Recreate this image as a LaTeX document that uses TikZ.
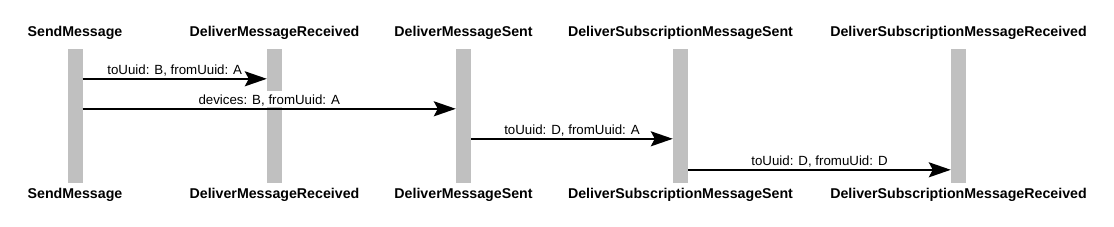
\documentclass[tikz,border=0pt]{standalone}
\usepackage{fontspec}
\setmainfont{Liberation Sans}
\usetikzlibrary{arrows.meta,positioning}
\definecolor{barGray}{HTML}{C0C0C0}

\begin{document}
\begin{tikzpicture}[x=1pt,y=-1pt,
    bar/.style={fill=barGray, draw=none, inner sep=0pt, minimum width=15pt, minimum height=134pt},
    title/.style={inner sep=0pt, font=\bfseries\fontsize{14.2}{16}\selectfont},
    msg/.style={draw=black, line width=2pt, -{Stealth[length=22pt,width=15pt,inset=4pt]}},
    lbl/.style={above, yshift=1pt, fill=white, inner xsep=1pt, inner ysep=0pt,
      text height=14pt, text depth=2pt, font=\fontsize{13.3}{15}\selectfont}]
  \useasboundingbox (0,0) rectangle (1114,226);
  \foreach \n/\x/\t in {send/75/SendMessage, dmr/274.5/DeliverMessageReceived,
      dms/463.5/DeliverMessageSent, dsms/680.5/DeliverSubscriptionMessageSent,
      dsmr/958.5/DeliverSubscriptionMessageReceived}{
    \node[bar] (\n) at (\x,116) {};
    \node[title, above=9pt of \n] (\n-top) {\t};
    \node[title, below=5pt of \n] (\n-bot) {\t};
  }
  \draw[msg] ([yshift=-30pt]send.north east) -- node[lbl] {toUuid: B, fromUuid: A} ([yshift=-30pt]dmr.north west);
  \draw[msg] ([yshift=-60pt]send.north east) -- node[lbl] {devices: B, fromUuid: A} ([yshift=-60pt]dms.north west);
  \draw[msg] ([yshift=-90pt]dms.north east) -- node[lbl] {toUuid: D, fromUuid: A} ([yshift=-90pt]dsms.north west);
  \draw[msg] ([yshift=-121pt]dsms.north east) -- node[lbl] {toUuid: D, fromuUid: D} ([yshift=-121pt]dsmr.north west);
\end{tikzpicture}
\end{document}
